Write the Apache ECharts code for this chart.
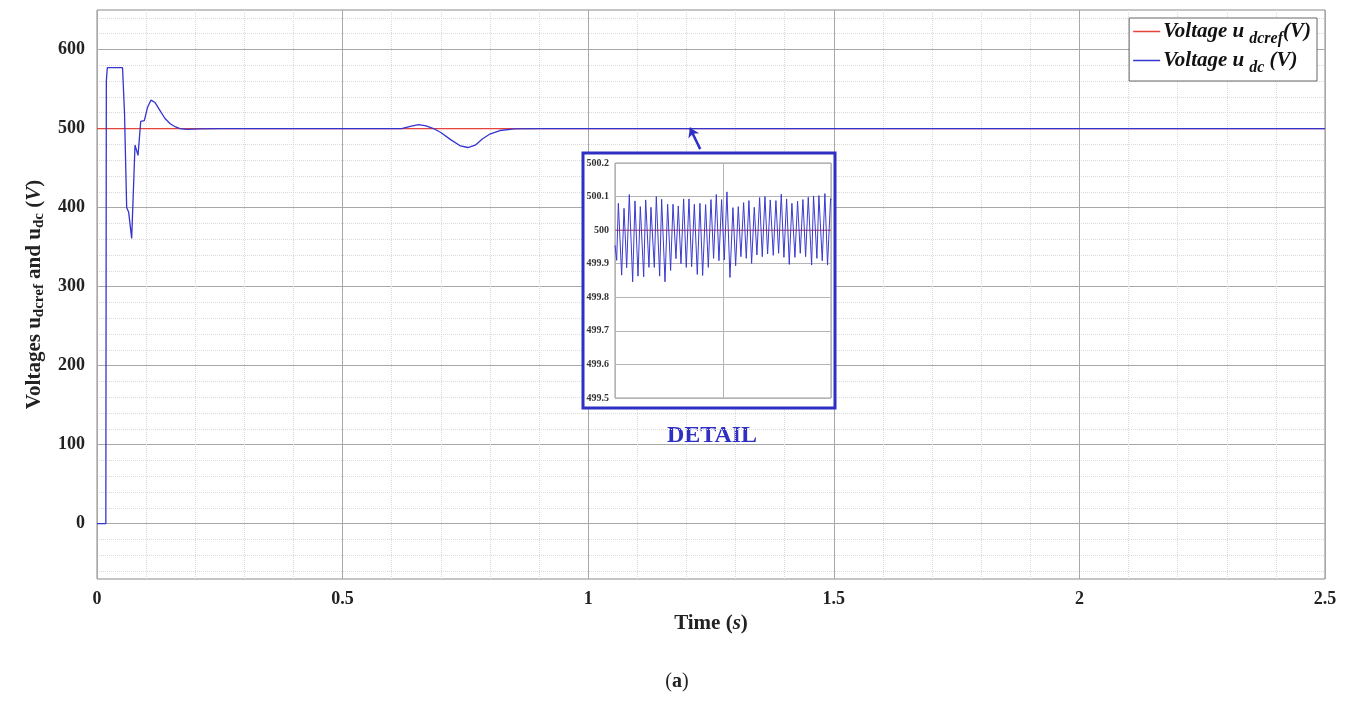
<!DOCTYPE html>
<html>
<head>
<meta charset="utf-8">
<script src="https://cdn.jsdelivr.net/npm/echarts@6/dist/echarts.min.js"></script>
<style>
  html, body { margin: 0; background: #fff; }
  #dcVoltage { width: 1355px; height: 718px; }
</style>
</head>
<body>
<div id="dcVoltage"></div>
<script>
// main plot, time in s, voltage in V
const udcTime = [0, 0.018, 0.019, 0.021, 0.052, 0.056, 0.0604, 0.0645, 0.0706, 0.0774, 0.0835, 0.089, 0.093, 0.0963,
  0.103, 0.110, 0.118, 0.128, 0.138, 0.149, 0.160, 0.169, 0.183, 0.21, 0.25,
  0.62, 0.64, 0.655, 0.67, 0.685, 0.70, 0.72, 0.74, 0.755, 0.77, 0.785, 0.80, 0.82, 0.85, 0.90, 2.5]
const udcVolt = [0, 0, 560, 577, 577, 520, 400, 394, 361, 479, 466, 509, 507, 510,
  527, 536, 533, 523, 513, 506, 502, 500, 499, 499.6, 500,
  500, 503, 505, 503.5, 500, 495, 486, 478, 476, 479, 487, 493, 497.5, 499.6, 500, 500]
const refTime = [0, 2.5]
const refVolt = [500, 500]
const yMin = -70
const yMax = 650

// detail window, time in ms
const detailTime = [0, 0.31, 0.62, 1.23, 1.67, 2.16, 2.65, 3.27, 3.70, 4.26, 4.69, 5.31, 5.68, 6.29, 6.66, 7.28,
  7.65, 8.27, 8.64, 9.26, 9.75, 10.30, 10.74, 11.29, 11.72, 12.22, 12.71, 13.20, 13.70, 14.19, 14.69, 15.24,
  15.73, 16.23, 16.78, 17.28, 17.77, 18.26, 18.76, 19.25, 19.74, 20.24, 20.73, 21.29, 21.84, 22.34, 22.83, 23.32,
  23.82, 24.31, 24.80, 25.30, 25.79, 26.28, 26.78, 27.27, 27.77, 28.26, 28.75, 29.31, 29.80, 30.30, 30.79, 31.28,
  31.78, 32.27, 32.76, 33.32, 33.81, 34.31, 34.80, 35.30, 35.79, 36.41, 36.77, 37.39, 37.76, 38.38, 38.87, 39.36,
  39.92, 40]
const detailVolt = [499.955, 499.91, 500.08, 499.866, 500.065, 499.888, 500.106, 499.846, 500.087, 499.863, 500.07, 499.861, 500.09, 499.889, 500.068, 499.889,
  500.10, 499.863, 500.092, 499.846, 500.077, 499.88, 500.077, 499.915, 500.072, 499.90, 500.093, 499.889, 500.093, 499.891, 500.077, 499.868,
  500.08, 499.865, 500.076, 499.889, 500.091, 499.916, 500.106, 499.909, 500.091, 499.911, 500.114, 499.859, 500.067, 499.894, 500.07, 499.921,
  500.082, 499.916, 500.088, 499.901, 500.068, 499.926, 500.097, 499.921, 500.10, 499.929, 500.09, 499.925, 500.088, 499.931, 500.107, 499.919,
  500.093, 499.898, 500.08, 499.919, 500.086, 499.931, 500.091, 499.921, 500.098, 499.896, 500.102, 499.916, 500.103, 499.909, 500.109, 499.896,
  500.094, 500.09]
const detailRef = [500, 500]
const detailRefTime = [0, 40]

const serif = '"Liberation Serif", "DejaVu Serif", serif'
const red = '#e8423c'
const blue = '#3434d0'
const boxBlue = '#2f2fc4'
const refName = 'Voltage udcref (V)'
const udcName = 'Voltage udc (V)'

const zip = (xs, ys) => xs.map((x, i) => [x, ys[i]])

// y grid lines every 10 V; colour each one by role (major 100, minor 20, hidden otherwise)
const gridColors = (kind) => {
  let out = []
  for (let k = 0; k < 10; k++) {
    let v = yMin + 10 * k
    let major = v % 100 === 0
    let minor = !major && v % 20 === 0
    if (kind === 'major') out.push(major ? '#a8a8a8' : 'rgba(0,0,0,0)')
    else out.push(minor ? '#dadada' : 'rgba(0,0,0,0)')
  }
  return out
}

const subRich = {
  n: { fontFamily: serif, fontWeight: 'bold', fontSize: 21, color: '#222' },
  s: { fontFamily: serif, fontWeight: 'bold', fontSize: 15, color: '#222', padding: [10, 0, 0, 0] },
  i: { fontFamily: serif, fontWeight: 'bold', fontStyle: 'italic', fontSize: 21, color: '#222' },
}

let myChart = echarts.init(document.getElementById('dcVoltage'))

let option = {
  animation: false,
  backgroundColor: '#fff',
  grid: [
    { left: 97, right: 30, top: 10, bottom: 139, show: true, borderColor: '#8a8a8a', borderWidth: 1 },
    { left: 615, top: 163, width: 216, height: 235, show: true, borderColor: '#9a9a9a', borderWidth: 1,
      backgroundColor: '#fff', zlevel: 1, z: 2 },
  ],
  legend: {
    orient: 'vertical',
    right: 38,
    top: 18,
    padding: [3, 6, 5, 4],
    itemGap: 3,
    itemWidth: 27,
    itemHeight: 1.5,
    icon: 'rect',
    backgroundColor: '#fff',
    borderColor: '#666',
    borderWidth: 1,
    data: [refName, udcName],
    formatter: function (name) {
      return name === refName ? '{a|Voltage u}{s|dcref}{a|(V)}' : '{a|Voltage u}{s|dc}{a| (V)}'
    },
    textStyle: {
      padding: [0, 0, 0, -2],
      rich: {
        a: { fontFamily: serif, fontWeight: 'bold', fontStyle: 'italic', fontSize: 21, color: '#111' },
        s: { fontFamily: serif, fontWeight: 'bold', fontStyle: 'italic', fontSize: 16, color: '#111', padding: [15, 0, 0, 5] },
      },
    },
  },
  xAxis: [
    {
      type: 'value',
      gridIndex: 0,
      min: 0,
      max: 2.5,
      interval: 0.5,
      name: '{n|Time (}{i|s}{n|)}',
      nameLocation: 'middle',
      nameGap: 34,
      nameTextStyle: { rich: subRich },
      axisLine: { show: false },
      axisTick: { show: false },
      axisLabel: { margin: 11, fontFamily: serif, fontWeight: 'bold', fontSize: 18, color: '#222' },
      splitLine: { show: true, lineStyle: { color: '#a8a8a8', width: 1 } },
      minorTick: { show: false, splitNumber: 5 },
      minorSplitLine: { show: true, lineStyle: { color: '#dadada', type: 'dotted', width: 1 } },
    },
    {
      type: 'value',
      gridIndex: 1,
      min: 0,
      max: 40,
      interval: 20,
      zlevel: 1,
      z: 3,
      axisLine: { show: false },
      axisTick: { show: false },
      axisLabel: { show: false },
      splitLine: { show: true, lineStyle: { color: '#b4b4b4', width: 1 } },
    },
  ],
  yAxis: [
    {
      type: 'value',
      gridIndex: 0,
      min: yMin,
      max: yMax,
      interval: 10,
      name: '{n|Voltages u}{s|dcref}{n| and u}{s|dc}{n| (}{i|V}{n|)}',
      nameLocation: 'middle',
      nameGap: 41,
      nameTextStyle: { rich: subRich },
      axisLine: { show: false },
      axisTick: { show: false },
      axisLabel: {
        margin: 12,
        fontFamily: serif,
        fontWeight: 'bold',
        fontSize: 18,
        color: '#222',
        formatter: (v) => (v % 100 === 0 && v >= 0 && v <= 600 ? String(v) : ''),
      },
      splitLine: { show: true, lineStyle: { color: gridColors('minor'), type: 'dotted', width: 1 } },
    },
    {
      type: 'value',
      gridIndex: 0,
      min: yMin,
      max: yMax,
      interval: 10,
      axisLine: { show: false },
      axisTick: { show: false },
      axisLabel: { show: false },
      splitLine: { show: true, lineStyle: { color: gridColors('major'), width: 1 } },
    },
    {
      type: 'value',
      gridIndex: 1,
      min: 499.5,
      max: 500.2,
      interval: 0.1,
      zlevel: 1,
      z: 3,
      axisLine: { show: false },
      axisTick: { show: false },
      axisLabel: {
        margin: 6,
        fontFamily: serif,
        fontWeight: 'bold',
        fontSize: 10,
        color: '#333',
        formatter: (v) => String(Math.round(v * 10) / 10),
      },
      splitLine: { show: true, lineStyle: { color: '#b4b4b4', width: 1 } },
    },
  ],
  graphic: [
    {
      type: 'rect',
      zlevel: 1,
      z: -1,
      shape: { x: 583, y: 153, width: 252, height: 255 },
      style: { fill: '#fff', stroke: boxBlue, lineWidth: 3 },
    },
    {
      type: 'text',
      x: 712,
      y: 436,
      style: { text: 'DETAIL', fill: boxBlue, font: 'bold 24px ' + serif, textAlign: 'center', textVerticalAlign: 'middle' },
    },
    {
      type: 'text',
      x: 677,
      y: 682,
      style: {
        text: '({b|a})',
        fill: '#222',
        font: '20px ' + serif,
        textAlign: 'center',
        textVerticalAlign: 'middle',
        rich: { b: { fontFamily: serif, fontWeight: 'bold', fontSize: 20, fill: '#222' } },
      },
    },
  ],
  series: [
    {
      name: refName,
      type: 'line',
      xAxisIndex: 0,
      yAxisIndex: 0,
      data: zip(refTime, refVolt),
      showSymbol: false,
      lineStyle: { color: red, width: 1.3 },
      itemStyle: { color: red },
    },
    {
      name: udcName,
      type: 'line',
      xAxisIndex: 0,
      yAxisIndex: 0,
      data: zip(udcTime, udcVolt),
      showSymbol: false,
      lineStyle: { color: blue, width: 1.3 },
      itemStyle: { color: blue },
      markLine: {
        silent: true,
        symbol: ['none', 'arrow'],
        symbolSize: 9,
        label: { show: false },
        lineStyle: { color: boxBlue, width: 2.5, type: 'solid' },
        data: [[{ coord: [1.228, 474] }, { coord: [1.207, 501] }]],
      },
    },
    {
      name: 'detail ref',
      type: 'line',
      xAxisIndex: 1,
      yAxisIndex: 2,
      zlevel: 1,
      z: 4,
      data: zip(detailRefTime, detailRef),
      showSymbol: false,
      lineStyle: { color: '#d8405a', width: 1 },
    },
    {
      name: 'detail udc',
      type: 'line',
      xAxisIndex: 1,
      yAxisIndex: 2,
      zlevel: 1,
      z: 5,
      data: zip(detailTime, detailVolt),
      showSymbol: false,
      lineStyle: { color: '#3a3ad0', width: 1 },
    },
  ],
}

myChart.setOption(option)
</script>
</body>
</html>
